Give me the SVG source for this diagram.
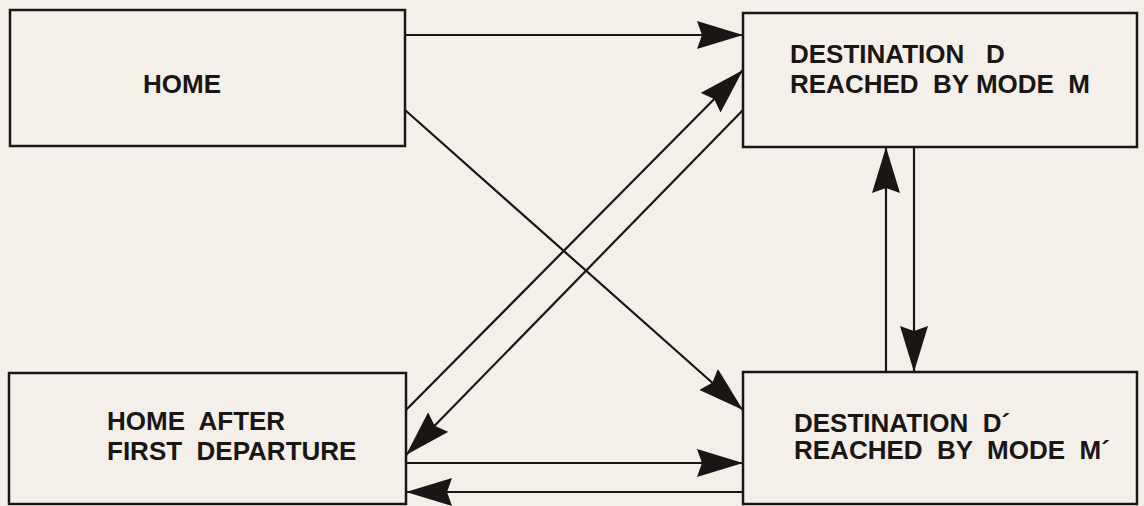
<svg xmlns="http://www.w3.org/2000/svg" width="1144" height="506" viewBox="0 0 1144 506">
  <defs>
    <marker id="arr" viewBox="0 0 46 28" refX="46" refY="14" markerWidth="46" markerHeight="28" markerUnits="userSpaceOnUse" orient="auto">
      <path d="M0,0 L46,14 L0,28 L5,14 Z" fill="#1a1616"/>
    </marker>
    <style>
      .box { fill: #f4efe9; stroke: #1a1616; stroke-width: 2.5; }
      .lbl { font-family: "Liberation Sans", Arial, sans-serif; font-weight: bold; font-size: 26px; fill: #1a1616; }
      .edge { stroke: #1a1616; stroke-width: 2.2; fill: none; marker-end: url(#arr); }
    </style>
  </defs>
  <rect x="0" y="0" width="1144" height="506" fill="#f4efe9"/>

  <g id="home">
    <rect class="box" x="10" y="10" width="395" height="136"/>
    <text class="lbl" x="143" y="93">HOME</text>
  </g>

  <g id="dest-d">
    <rect class="box" x="743" y="13" width="394" height="134"/>
    <text class="lbl" xml:space="preserve"><tspan x="790" y="63">DESTINATION   D</tspan><tspan x="790" y="93">REACHED  BY MODE  M</tspan></text>
  </g>

  <g id="home-after">
    <rect class="box" x="9" y="373" width="397" height="131"/>
    <text class="lbl" xml:space="preserve"><tspan x="107" y="430">HOME  AFTER</tspan><tspan x="107" y="460">FIRST  DEPARTURE</tspan></text>
  </g>

  <g id="dest-d-prime">
    <rect class="box" x="743" y="372" width="394" height="132"/>
    <text class="lbl" xml:space="preserve"><tspan x="794" y="432">DESTINATION  D´</tspan><tspan x="794" y="459">REACHED  BY  MODE  M´</tspan></text>
  </g>

  <g id="connectors">
    <line class="edge" x1="405" y1="35" x2="743" y2="35"/>
    <line class="edge" x1="405" y1="110" x2="743" y2="410"/>
    <line class="edge" x1="406" y1="410" x2="743" y2="70"/>
    <line class="edge" x1="743" y1="110" x2="406" y2="455"/>
    <line class="edge" x1="406" y1="463" x2="743" y2="463"/>
    <line class="edge" x1="743" y1="492" x2="406" y2="492"/>
    <line class="edge" x1="886" y1="372" x2="886" y2="147"/>
    <line class="edge" x1="914" y1="147" x2="914" y2="372"/>
  </g>
</svg>
